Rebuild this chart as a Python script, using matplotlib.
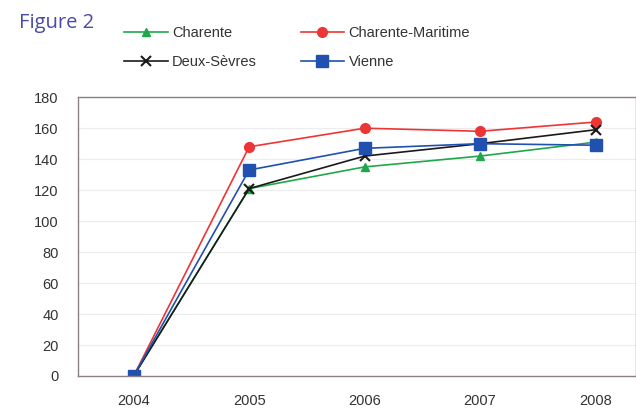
import matplotlib
matplotlib.use("Agg")
import matplotlib.pyplot as plt

plt.rcParams['font.family'] = ['Liberation Sans', 'DejaVu Sans']

years = ['2004', '2005', '2006', '2007', '2008']
charente = [0, 121, 135, 142, 151]
charente_maritime = [0, 148, 160, 158, 164]
deux_sevres = [0, 121, 142, 150, 159]
vienne = [0, 133, 147, 150, 149]

fig = plt.figure(figsize=(6.36, 4.13), dpi=100)
ax = fig.add_axes([0.123, 0.0896, 0.877, 0.675])

x = range(len(years))
l1, = ax.plot(x, charente, color='#1fa84a', marker='^', ms=6, lw=1.2, label='Charente')
l2, = ax.plot(x, charente_maritime, color='#ee3535', marker='o', ms=7, lw=1.2, label='Charente-Maritime')
l3, = ax.plot(x, deux_sevres, color='#1a1a1a', marker='x', ms=7, mew=1.5, lw=1.2, label='Deux-Sèvres')
l4, = ax.plot(x, vienne, color='#2050b0', marker='s', ms=8, lw=1.2, label='Vienne')

ax.set_xlim(-0.48, 4.35)
ax.set_ylim(0, 180)
ax.set_yticks(range(0, 181, 20))
ax.set_xticks(list(x))
ax.set_xticklabels(years)
ax.tick_params(length=0, labelsize=10.5, colors='#333333')
ax.tick_params(axis='x', pad=13)
ax.tick_params(axis='y', pad=14)
ax.grid(axis='y', color='#ececec', lw=0.8)
ax.set_axisbelow(True)
for s in ax.spines.values():
    s.set_color('#8a8080')
    s.set_linewidth(1.0)

fig.text(0.03, 0.945, 'Figure 2', color='#4a4aa8', fontsize=14.5, va='center',
         family=['Open Sans', 'DejaVu Sans'])

# legend fills column by column, so order for rows: Charente | C-Maritime / Deux-Sevres | Vienne
fig.legend([l1, l3, l2, l4], ['Charente', 'Deux-Sèvres', 'Charente-Maritime', 'Vienne'],
           ncol=2, frameon=False, loc='upper left',
           bbox_to_anchor=(0.174, 0.968), fontsize=10.5, handlelength=3.0,
           columnspacing=3.0, labelspacing=1.0, handletextpad=0.3,
           labelcolor='#333333')

fig.savefig('out.png', dpi=100, facecolor='white')
